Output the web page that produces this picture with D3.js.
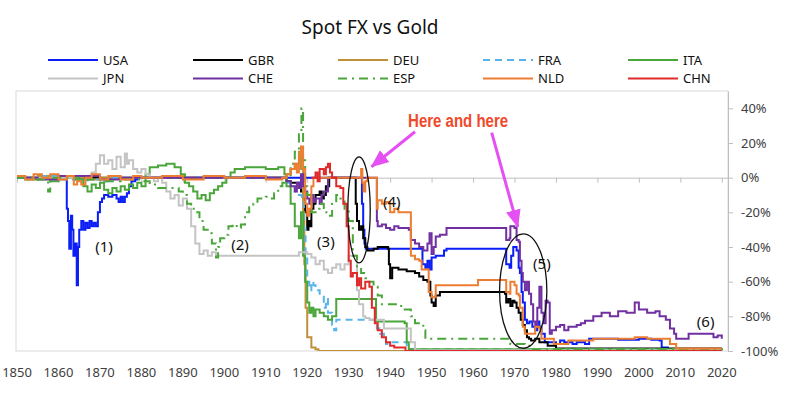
<!DOCTYPE html>
<meta charset="utf-8">
<script src="https://d3js.org/d3.v7.min.js"></script>

<style>
  body {
    margin: 0;
    background: #fff;
  }
  text {
    font-family: "Noto Sans", sans-serif;
    fill: #404040;
  }
  .axis path, .axis line {
    stroke: #bfbfbf;
  }
  .note {
    font-size: 15px;
    fill: #111;
  }
</style>

<body>
  <div id="chart"></div>

  <script>
    // values: [year, % change vs gold]
    const usa = [[1850,0],[1861.8,0],[1862,-18],[1862.3,-25],[1862.6,-41],[1863,-22],[1863.3,-30],[1863.6,-45],[1864,-38],[1864.4,-62],[1864.7,-40],[1865,-30],[1865.5,-25],[1866,-30],[1866.5,-26],[1867,-29],[1867.5,-25],[1868,-28],[1868.5,-26],[1869,-28],[1869.5,-20],[1870,-14],[1870.5,-12],[1871,-10],[1872,-11],[1873,-10],[1874,-12],[1874.5,-14],[1875,-11],[1875.5,-14],[1876,-11],[1876.5,-9],[1877,-5],[1877.6,-2],[1878.5,-1],[1879,0],[1933,0],[1933.2,-15],[1933.5,-30],[1933.8,-38],[1934.1,-41],[1947.6,-41],[1947.8,-50],[1948.5,-52],[1949,-48],[1949.5,-53],[1950,-46],[1951,-45],[1952,-45],[1953,-42],[1953.6,-41],[1967.7,-41],[1968,-50],[1968.8,-52],[1969.2,-45],[1969.7,-40],[1970.5,-42],[1971,-52],[1971.3,-55],[1971.7,-66],[1972,-72],[1972.5,-82],[1973,-84],[1973.6,-83],[1974.3,-86],[1975,-88],[1975.5,-83],[1976,-86],[1976.5,-90],[1977.3,-95],[1980,-96],[1981,-94],[1982,-95],[1984,-96],[1985,-95],[1987,-96],[1988,-93],[1995,-93.5],[2000,-93],[2003,-93.5],[2005,-94],[2005.5,-98],[2007,-99],[2020,-99]];

    const gbr = [[1850,0],[1914.5,0],[1915,-2],[1916,-3],[1917,-3],[1918,-5],[1918.5,-8],[1919,-12],[1919.5,-20],[1920,-30],[1920.3,-25],[1920.7,-28],[1921,-18],[1921.5,-15],[1922,-10],[1923,-8],[1923.5,-12],[1924,-10],[1924.5,-5],[1925.3,0],[1931.5,0],[1931.7,-15],[1932,-25],[1932.5,-30],[1933,-28],[1933.5,-35],[1934,-40],[1934.5,-42],[1936,-41],[1937,-40],[1939.5,-41],[1939.7,-50],[1940,-58],[1940.5,-52],[1942,-53],[1944,-54],[1946,-55],[1947,-57],[1948,-59],[1949,-60],[1949.7,-68],[1950,-72],[1950.5,-74],[1951,-68],[1952,-66],[1966,-66],[1967.7,-67],[1968,-72],[1968.5,-70],[1969,-74],[1969.5,-71],[1970,-72],[1970.5,-75],[1971,-78],[1971.5,-82],[1972,-85],[1972.5,-88],[1973,-92],[1973.5,-93],[1974,-94],[1975,-93],[1976,-95],[1978,-97],[1980,-98.5],[2020,-98.5]];

    const deu = [[1850,0],[1855,1],[1860,0],[1866,-1],[1870,0],[1914.5,0],[1915,2],[1916,5],[1917,8],[1918,15],[1918.5,5],[1919,-20],[1919.3,-50],[1919.6,-75],[1920,-92],[1920.8,-92],[1921,-98],[1922,-99],[1922.7,-100],[2020,-100]];

    const fra = [[1850,0],[1856,1],[1860,-1],[1870,0],[1871,-2],[1872,-1],[1873,0],[1914.5,0],[1915,-3],[1916,-5],[1917,-8],[1918,-10],[1918.7,-12],[1919.2,-30],[1919.6,-45],[1920,-60],[1920.5,-65],[1921,-60],[1921.5,-62],[1922,-65],[1923,-68],[1924,-75],[1924.5,-70],[1925,-78],[1926,-85],[1926.5,-88],[1927,-82],[1936.5,-82],[1936.8,-87],[1937.5,-90],[1938.5,-92],[1939,-96],[1940,-95],[1943.5,-95],[1944,-99],[2020,-99.5]];

    const ita = [[1850,0],[1852,-1],[1855,0],[1858,-2],[1860,0],[1864,-1],[1866,-5],[1867,-8],[1868,-4],[1869,-6],[1870,-3],[1871,-7],[1872,-9],[1873,-6],[1874,-8],[1875,-5],[1876,-7],[1877,-4],[1878,-6],[1879,-3],[1880,-5],[1881,2],[1882,6],[1884,7],[1886,8],[1888,6],[1889.5,2],[1890.5,-3],[1891.5,-5],[1892.5,-8],[1893.5,-12],[1894.5,-10],[1895.5,-13],[1896.5,-9],[1897.5,-7],[1898.5,-5],[1899.5,-3],[1900.5,0],[1901.5,3],[1902.5,5],[1905,6],[1910,5],[1913,6],[1914.5,2],[1915,-5],[1916,-15],[1917,-28],[1918,-35],[1918.5,-20],[1919,-45],[1919.5,-60],[1920,-72],[1920.5,-78],[1921,-75],[1921.5,-80],[1922,-76],[1923,-78],[1924,-80],[1925,-82],[1926,-80],[1927,-70],[1936.3,-70],[1936.6,-83],[1943.5,-84],[1944,-95],[1944.5,-99],[2020,-99.5]];

    const jpn = [[1850,0],[1860,0],[1865,1],[1868,3],[1869,8],[1870,13],[1871,8],[1872,10],[1873,5],[1874,12],[1875,6],[1876,14],[1876.5,8],[1877,10],[1878,5],[1879,3],[1880,5],[1881,2],[1882,0],[1883,-2],[1884,0],[1885,-3],[1886,-8],[1887,-12],[1888,-10],[1889,-16],[1890,-12],[1891,-18],[1892,-28],[1893,-38],[1894,-44],[1895,-42],[1896,-45],[1897,-43],[1898,-45],[1917,-45],[1918,-43],[1920,-44],[1921,-46],[1922,-50],[1923,-48],[1924,-53],[1925,-55],[1926,-52],[1927,-50],[1928,-53],[1929,-50],[1930,-45],[1931.9,-45],[1932,-65],[1932.5,-73],[1933.5,-80],[1934,-81],[1935,-82],[1938,-82],[1938.5,-87],[1944.5,-87],[1945,-95],[1946,-99.5],[2020,-99.7]];

    const che = [[1850,0],[1855,-1],[1860,1],[1870,-1],[1875,0],[1914.5,0],[1915,-2],[1916,-5],[1917,-8],[1917.5,-3],[1918,-6],[1918.5,2],[1919,-5],[1919.5,-8],[1920,-12],[1920.5,-15],[1921,-10],[1921.5,-14],[1922,-12],[1923,-15],[1923.5,-10],[1924,-8],[1925,0],[1936.7,0],[1936.8,-25],[1937,-28],[1938,-27],[1939,-29],[1940,-30],[1941,-28],[1942,-29],[1944.5,-30],[1945,-36],[1946,-38],[1947,-40],[1948,-42],[1949,-38],[1949.5,-32],[1950,-44],[1950.5,-40],[1951,-34],[1952,-33],[1953.6,-29],[1967.7,-29],[1968,-36],[1968.8,-35],[1969,-28],[1970,-29],[1970.5,-36],[1971,-37],[1971.3,-48],[1971.7,-55],[1972,-60],[1972.5,-65],[1973,-60],[1973.5,-67],[1974,-73],[1974.5,-83],[1975,-86],[1975.5,-75],[1976,-63],[1976.5,-78],[1977,-84],[1977.5,-71],[1978,-72],[1978.5,-90],[1979,-88],[1980,-86],[1981,-85],[1982,-88],[1983,-86],[1985,-85],[1986,-84],[1987,-82.5],[1989,-80],[1991,-78],[1993,-80],[1995,-77],[1997,-78],[1999,-72],[2000,-76],[2002,-78],[2004,-77],[2005,-80],[2006.5,-82],[2007.5,-87],[2008.5,-90],[2009,-93],[2011,-93],[2012,-90],[2017,-90],[2018,-92],[2019,-91],[2020,-93]];

    const esp = [[1850,0],[1855,-1],[1857.5,-8],[1858,0],[1865,-1],[1866,-3],[1867,-1],[1870,-2],[1875,-1],[1880,-2],[1882,-4],[1884,-6],[1887,-6],[1889,-8],[1890,-10],[1891,-15],[1892,-18],[1893,-20],[1894,-25],[1895,-30],[1896,-32],[1897,-38],[1898,-46],[1898.5,-40],[1899,-35],[1900,-33],[1901,-28],[1902,-27],[1903,-29],[1904,-27],[1905,-20],[1906,-17],[1907,-15],[1908,-12],[1910,-11],[1911,-12],[1912,-9],[1913,-5],[1914,-3],[1915,0],[1916,8],[1917,15],[1918,25],[1918.6,40],[1919,10],[1919.5,-5],[1920,-10],[1921,-20],[1922,-18],[1923,-15],[1924,-20],[1925,-22],[1926,-15],[1927,-10],[1928,-12],[1929,-18],[1930,-25],[1931,-45],[1932,-52],[1933,-55],[1934,-58],[1935,-60],[1936,-63],[1937,-68],[1938,-73],[1942,-74],[1943,-76],[1945,-80],[1946,-84],[1948,-88],[1948.5,-93],[1968.5,-93],[1969,-96],[1972.5,-97],[1974,-99],[2020,-99.5]];

    const nld = [[1850,1],[1852,-1],[1854,2],[1856,0],[1858,2],[1860,-1],[1862,1],[1863.7,-4],[1864.5,-2],[1865.5,-4],[1866.5,0],[1868,2],[1870,-1],[1872,1],[1875,-1],[1878,1],[1880,0],[1885,1],[1890,-1],[1895,1],[1900,0],[1905,1],[1910,-1],[1914,0],[1915,2],[1916,5],[1917,8],[1917.5,3],[1918,12],[1918.5,18],[1919,5],[1919.5,-15],[1920,-22],[1920.5,-18],[1921,-5],[1921.5,0],[1932.5,0],[1933,5],[1933.3,-3],[1933.6,-8],[1934,-2],[1934.5,0],[1936.6,0],[1936.8,-18],[1937,-13],[1938,-15],[1939,-14],[1940,-20],[1941,-18],[1942,-20],[1944.5,-20],[1945,-45],[1946,-47],[1947,-48],[1947.6,-53],[1949.3,-66],[1950,-69],[1951,-62],[1961,-62],[1961.2,-59],[1967.7,-59],[1968,-66],[1968.8,-67],[1969,-60],[1970,-62],[1970.5,-67],[1971,-68],[1971.3,-75],[1972,-86],[1972.5,-90],[1974,-90],[1975,-86],[1976,-87],[1976.5,-93],[1979.5,-96],[1982,-96],[1983,-94],[1988,-94],[1989,-93],[1998,-93],[1999,-92],[2001,-92],[2002,-93],[2007,-93],[2007.5,-96],[2009,-98.5],[2020,-98.5]];

    const chn = [[1921,0],[1922,3],[1922.5,-2],[1923,5],[1924,2],[1924.5,6],[1925,8],[1925.5,3],[1926,0],[1927,-5],[1928,-6],[1928.7,-15],[1929.5,-28],[1930,-48],[1930.5,-57],[1931,-55],[1932,-62],[1932.5,-58],[1933,-64],[1934,-60],[1935,-63],[1935.6,-75],[1936.3,-84],[1937,-88],[1938,-92],[1939,-95],[1940,-97],[1941,-98],[1943.7,-100],[2020,-100]];

    const countries = ["USA", "GBR", "DEU", "FRA", "ITA", "JPN", "CHE", "ESP", "NLD", "CHN"];
    const seriesValues = [usa, gbr, deu, fra, ita, jpn, che, esp, nld, chn];
    const xTicks = [1850, 1860, 1870, 1880, 1890, 1900, 1910, 1920, 1930, 1940, 1950, 1960, 1970, 1980, 1990, 2000, 2010, 2020];
    const yTicks = [-100, -80, -60, -40, -20, 0, 20, 40];

    // annotations in data units
    const noteLabels = [["(1)", 1871, -40], ["(2)", 1903.8, -39], ["(3)", 1924.5, -37], ["(4)", 1940.4, -14], ["(5)", 1976.6, -50], ["(6)", 2016.1, -83]];
    const ellipses = [[1932.5, -18.6, 2.7, 30.6], [1972.1, -65.4, 5.7, 33]];
    const arrows = [[1946, 26.5, 1935.5, 6.3], [1964.5, 26, 1970.8, -28.4]];
    const callout = ["Here and here", 1956.4, 29.3];

    const styles = {
      USA: { color: "#0a1ef5", dash: null },
      GBR: { color: "#000000", dash: null },
      DEU: { color: "#bf8f3a", dash: null },
      FRA: { color: "#56b4ea", dash: "7,5" },
      ITA: { color: "#4aa63a", dash: null },
      JPN: { color: "#c4c4c4", dash: null },
      CHE: { color: "#7030a0", dash: null },
      ESP: { color: "#4aa63a", dash: "9,5,2,5" },
      NLD: { color: "#ed7d31", dash: null },
      CHN: { color: "#e02a2a", dash: null }
    };

    const width = 800,
          height = 396,
          plot = { left: 16, right: 728, top: 91, bottom: 351 };

    const svg = d3.select("#chart")
      .append("svg")
      .attr("width", width)
      .attr("height", height);

    const x = d3.scaleLinear().domain([1849.75, 2021.5]).range([plot.left, plot.right]);
    const y = d3.scaleLinear().domain([-100, 50]).range([plot.bottom, plot.top]);

    // title
    svg.append("text")
      .attr("x", 370)
      .attr("y", 34)
      .attr("text-anchor", "middle")
      .style("font-size", "19px")
      .style("fill", "#111")
      .text("Spot FX vs Gold");

    // legend, 5 per row
    const legend = svg.append("g");
    countries.forEach((c, i) => {
      const lx = 48 + (i % 5) * 145,
            ly = 60 + Math.floor(i / 5) * 18.5;
      legend.append("line")
        .attr("x1", lx).attr("x2", lx + 50)
        .attr("y1", ly).attr("y2", ly)
        .attr("stroke", styles[c].color)
        .attr("stroke-width", 2.2)
        .attr("stroke-dasharray", styles[c].dash);
      legend.append("text")
        .attr("x", lx + 55)
        .attr("y", ly + 4.5)
        .style("font-size", "13px")
        .style("fill", "#111")
        .text(c);
    });

    // plot frame
    svg.append("rect")
      .attr("x", plot.left).attr("y", plot.top)
      .attr("width", plot.right - plot.left)
      .attr("height", plot.bottom - plot.top)
      .attr("fill", "none")
      .attr("stroke", "#d9d9d9");

    // x axis sits on the zero line, labels at the bottom
    svg.append("g")
      .attr("class", "axis")
      .attr("transform", `translate(0,${y(0)})`)
      .call(d3.axisBottom(x).tickValues(xTicks).tickSize(5).tickSizeOuter(0).tickFormat(""));

    svg.append("g")
      .selectAll("text")
      .data(xTicks)
      .enter()
      .append("text")
      .attr("x", d => x(d))
      .attr("y", 377)
      .attr("text-anchor", "middle")
      .style("font-size", "13px")
      .text(d => d);

    const yAxis = svg.append("g")
      .attr("class", "axis")
      .attr("transform", `translate(${plot.right},0)`)
      .call(d3.axisRight(y).tickValues(yTicks).tickSize(5).tickSizeOuter(0).tickFormat(d => d + "%"));
    yAxis.selectAll("text")
      .attr("x", 13)
      .style("font-size", "13px")
      .style("font-family", "'Noto Sans', sans-serif")
      .style("fill", "#404040");

    // series
    svg.append("clipPath").attr("id", "clip")
      .append("rect")
      .attr("x", plot.left).attr("y", plot.top)
      .attr("width", plot.right - plot.left)
      .attr("height", plot.bottom - plot.top);

    const line = d3.line()
      .x(d => x(d[0]))
      .y(d => y(d[1]))
      .curve(d3.curveStepAfter);

    svg.append("g")
      .attr("clip-path", "url(#clip)")
      .selectAll("path")
      .data(seriesValues)
      .enter()
      .append("path")
      .attr("d", line)
      .attr("fill", "none")
      .attr("stroke", (d, i) => styles[countries[i]].color)
      .attr("stroke-width", 2)
      .attr("stroke-dasharray", (d, i) => styles[countries[i]].dash);

    // annotations
    svg.selectAll("text.note")
      .data(noteLabels)
      .enter()
      .append("text")
      .attr("class", "note")
      .attr("x", d => x(d[1]))
      .attr("y", d => y(d[2]) + 5)
      .attr("text-anchor", "middle")
      .text(d => d[0]);

    svg.selectAll("ellipse")
      .data(ellipses)
      .enter()
      .append("ellipse")
      .attr("cx", d => x(d[0]))
      .attr("cy", d => y(d[1]))
      .attr("rx", d => x(d[0] + d[2]) - x(d[0]))
      .attr("ry", d => y(d[1] - d[3]) - y(d[1]))
      .attr("fill", "none")
      .attr("stroke", "#111")
      .attr("stroke-width", 1.3);

    svg.append("defs")
      .append("marker")
      .attr("id", "head")
      .attr("markerUnits", "userSpaceOnUse")
      .attr("viewBox", "0 -8 18 16")
      .attr("refX", 17)
      .attr("refY", 0)
      .attr("markerWidth", 18)
      .attr("markerHeight", 16)
      .attr("orient", "auto")
      .append("path")
      .attr("d", "M0,-7.5L18,0L0,7.5Z")
      .attr("fill", "#e450f2");

    svg.selectAll("line.arrow")
      .data(arrows)
      .enter()
      .append("line")
      .attr("class", "arrow")
      .attr("x1", d => x(d[0])).attr("y1", d => y(d[1]))
      .attr("x2", d => x(d[2])).attr("y2", d => y(d[3]))
      .attr("stroke", "#e450f2")
      .attr("stroke-width", 3)
      .attr("marker-end", "url(#head)");

    svg.append("text")
      .attr("x", x(callout[1]))
      .attr("y", y(callout[2]))
      .attr("text-anchor", "middle")
      .attr("textLength", 100)
      .attr("lengthAdjust", "spacingAndGlyphs")
      .style("font-family", "'Liberation Sans Narrow', 'Liberation Sans', sans-serif")
      .style("font-weight", "bold")
      .style("font-size", "18px")
      .style("fill", "#ef4a2a")
      .text(callout[0]);
  </script>
</body>
